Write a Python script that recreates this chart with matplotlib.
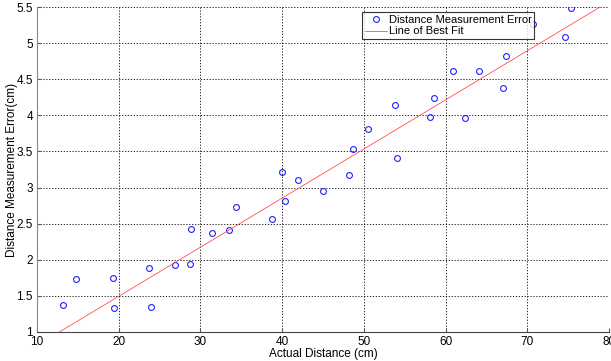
import matplotlib
matplotlib.use("Agg")
import matplotlib.pyplot as plt
import numpy as np

actual_distance = [13.2, 14.8, 19.3, 19.4, 23.7, 24.0, 26.9, 28.7, 28.8, 31.4,
                   33.5, 34.4, 38.8, 40.0, 40.4, 41.9, 45.0, 48.2, 48.7, 50.5,
                   53.8, 54.1, 58.1, 58.6, 60.9, 62.4, 64.1, 67.0, 67.4, 70.7,
                   74.6, 75.4]
measurement_error = [1.37, 1.73, 1.75, 1.33, 1.89, 1.35, 1.93, 1.94, 2.43, 2.37,
                     2.41, 2.73, 2.57, 3.22, 2.81, 3.11, 2.95, 3.17, 3.53, 3.81,
                     4.14, 3.41, 3.98, 4.24, 4.61, 3.96, 4.61, 4.38, 4.82, 5.27,
                     5.09, 5.49]
fit_slope = 0.068
fit_intercept = 0.134
x_ticks = [10, 20, 30, 40, 50, 60, 70, 80]
y_ticks = [1, 1.5, 2, 2.5, 3, 3.5, 4, 4.5, 5, 5.5]
y_tick_labels = ["1", "1.5", "2", "2.5", "3", "3.5", "4", "4.5", "5", "5.5"]

plt.rcParams['font.family'] = ['Liberation Sans', 'DejaVu Sans']

fig = plt.figure(figsize=(6.11, 3.61), dpi=100)
ax = fig.add_axes([37/611, 1-332/361, (609-37)/611, (332-7)/361])

ax.plot(actual_distance, measurement_error, linestyle='none', marker='o',
        markersize=4.2, markerfacecolor='none', markeredgecolor='#2020ff',
        markeredgewidth=0.8, label='Distance Measurement Error')
fx = np.array([x_ticks[0], x_ticks[-1]])
ax.plot(fx, fit_slope*fx + fit_intercept, color='#ff4040', lw=0.55,
        label='Line of Best Fit')

ax.set_xlim(10, 80)
ax.set_ylim(1, 5.5)
ax.set_xticks(x_ticks)
ax.set_yticks(y_ticks)
ax.set_yticklabels(y_tick_labels)
ax.grid(True, color='black', linestyle=(0, (1.5, 2)), linewidth=0.6)
ax.tick_params(direction='in', length=3, labelsize=8.5, color='#555555', pad=3)
for s in ['top', 'right']:
    ax.spines[s].set_visible(False)
ax.spines['left'].set_color('#888888')
ax.spines['bottom'].set_color('#444444')
ax.set_xlabel('Actual Distance (cm)', fontsize=8.5, labelpad=0)
ax.set_ylabel('Distance Measurement Error(cm)', fontsize=8.5, labelpad=-1)

leg = ax.legend(loc='upper left', bbox_to_anchor=((362-37)/572, 1-(12-7)/325),
                fontsize=8, frameon=True, fancybox=False, borderpad=0.25,
                handlelength=2.0, handletextpad=0.15, labelspacing=0.15,
                borderaxespad=0)
leg.get_frame().set_edgecolor('black')
leg.get_frame().set_linewidth(0.8)

fig.savefig('out.png', dpi=100)
